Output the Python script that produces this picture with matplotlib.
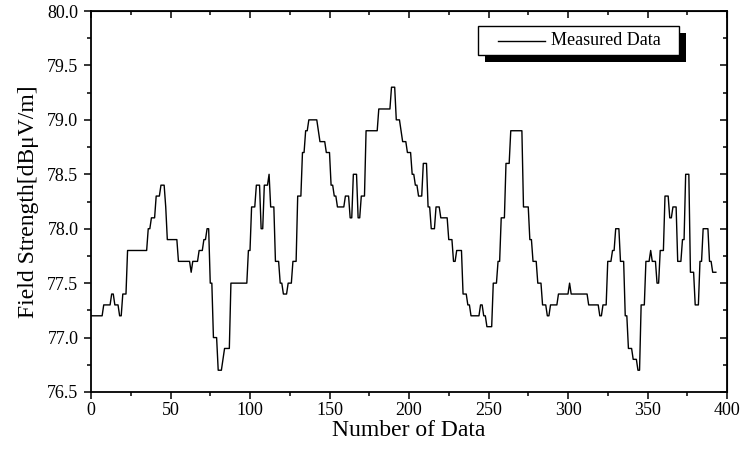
import numpy as np
import matplotlib
matplotlib.use("Agg")
import matplotlib.pyplot as plt
from matplotlib.patches import Rectangle
from matplotlib import patheffects as pe
from matplotlib.ticker import MultipleLocator

plt.rcParams['font.family'] = ['Liberation Serif', 'DejaVu Serif']
plt.rcParams['mathtext.fontset'] = 'stix'

# Measured field strength, stored as runs: sample index where each level starts
run_start = [0, 8, 13, 15, 18, 20, 23, 36, 38, 41, 44, 47, 48, 55, 63, 64, 68, 71,
             73, 75, 77, 80, 83, 84, 88, 99, 101, 104, 107, 109, 112, 113, 116, 119,
             121, 124, 127, 130, 133, 135, 137, 143, 144, 148, 151, 153, 155, 160,
             163, 165, 168, 170, 173, 181, 189, 192, 195, 196, 199, 202, 204, 206,
             209, 212, 214, 217, 220, 225, 228, 230, 234, 237, 239, 245, 247, 249,
             253, 256, 258, 261, 264, 272, 276, 278, 281, 284, 287, 289, 294, 301,
             302, 313, 320, 322, 325, 328, 330, 333, 336, 338, 341, 344, 346, 349,
             352, 353, 356, 358, 361, 364, 366, 369, 372, 374, 377, 380, 383, 385,
             389, 391]
run_end = 393
run_level = [77.2, 77.3, 77.4, 77.3, 77.2, 77.4, 77.8, 78.0, 78.1, 78.3, 78.4, 78.2,
             77.9, 77.7, 77.6, 77.7, 77.8, 77.9, 78.0, 77.5, 77.0, 76.7, 76.8, 76.9,
             77.5, 77.8, 78.2, 78.4, 78.0, 78.4, 78.5, 78.2, 77.7, 77.5, 77.4, 77.5,
             77.7, 78.3, 78.7, 78.9, 79.0, 78.9, 78.8, 78.7, 78.4, 78.3, 78.2, 78.3,
             78.1, 78.5, 78.1, 78.3, 78.9, 79.1, 79.3, 79.0, 78.9, 78.8, 78.7, 78.5,
             78.4, 78.3, 78.6, 78.2, 78.0, 78.2, 78.1, 77.9, 77.7, 77.8, 77.4, 77.3,
             77.2, 77.3, 77.2, 77.1, 77.5, 77.7, 78.1, 78.6, 78.9, 78.2, 77.9, 77.7,
             77.5, 77.3, 77.2, 77.3, 77.4, 77.5, 77.4, 77.3, 77.2, 77.3, 77.7, 77.8,
             78.0, 77.7, 77.2, 76.9, 76.8, 76.7, 77.3, 77.7, 77.8, 77.7, 77.5, 77.8,
             78.3, 78.1, 78.2, 77.7, 77.9, 78.5, 77.6, 77.3, 77.7, 78.0, 77.7, 77.6]

x_ticks = [0, 50, 100, 150, 200, 250, 300, 350, 400]
y_ticks = [76.5, 77.0, 77.5, 78.0, 78.5, 79.0, 79.5, 80.0]

lengths = np.diff(run_start + [run_end + 1])
field = np.repeat(run_level, lengths)
samples = np.arange(len(field))

W, H = 742, 454
fig = plt.figure(figsize=(W / 100, H / 100), dpi=100)
ax = fig.add_axes([91 / W, 1 - 392 / H, (727 - 91) / W, (392 - 11) / H])

ax.plot(samples, field, color='black', lw=1.0, label='Measured Data')

ax.set_xlim(0, 400)
ax.set_ylim(76.5, 80.0)
ax.set_xticks(x_ticks)
ax.set_yticks(y_ticks)
ax.set_yticklabels([f"{v:.1f}" for v in y_ticks])
ax.xaxis.set_minor_locator(MultipleLocator(25))
ax.yaxis.set_minor_locator(MultipleLocator(0.25))

for s in ax.spines.values():
    s.set_linewidth(1.3)

ax.tick_params(which='both', direction='out', top=False, right=False,
               labelsize=13, width=1.1, colors='black')
ax.tick_params(which='major', length=5)
ax.tick_params(which='minor', length=3)
ax.tick_params(axis='y', pad=4)
ax.tick_params(axis='x', pad=2)

# Inward ticks mirrored on top and right
ax_top = ax.secondary_xaxis('top')
ax_top.set_xticks(x_ticks)
ax_top.xaxis.set_minor_locator(MultipleLocator(25))
ax_top.tick_params(which='both', direction='in', labeltop=False, width=1.1)
ax_top.tick_params(which='major', length=5)
ax_top.tick_params(which='minor', length=3)
ax_right = ax.secondary_yaxis('right')
ax_right.set_yticks(y_ticks)
ax_right.yaxis.set_minor_locator(MultipleLocator(0.25))
ax_right.tick_params(which='both', direction='in', labelright=False, width=1.1)
ax_right.tick_params(which='major', length=5)
ax_right.tick_params(which='minor', length=3)

ax.set_xlabel('Number of Data', fontsize=17, labelpad=1)
ax.set_ylabel('Field Strength[dBμV/m]', fontsize=17, labelpad=6)

# Legend box with solid drop shadow
bx, by, bw, bh = 0.6085, 0.8845, 0.316, 0.076
frame = Rectangle((bx, by), bw, bh, transform=ax.transAxes, facecolor='white',
                  edgecolor='black', lw=1.0, zorder=5)
frame.set_path_effects([pe.SimplePatchShadow(offset=(5, -5), shadow_rgbFace='black',
                                             alpha=1.0), pe.Normal()])
ax.add_patch(frame)
ax.plot([bx + 0.031, bx + 0.105], [by + bh / 2, by + bh / 2], transform=ax.transAxes,
        color='black', lw=1.0, zorder=6)
ax.text(bx + 0.115, by + bh / 2, 'Measured Data', transform=ax.transAxes,
        fontsize=13, va='center', ha='left', zorder=6)

fig.savefig('out.png', dpi=100)
